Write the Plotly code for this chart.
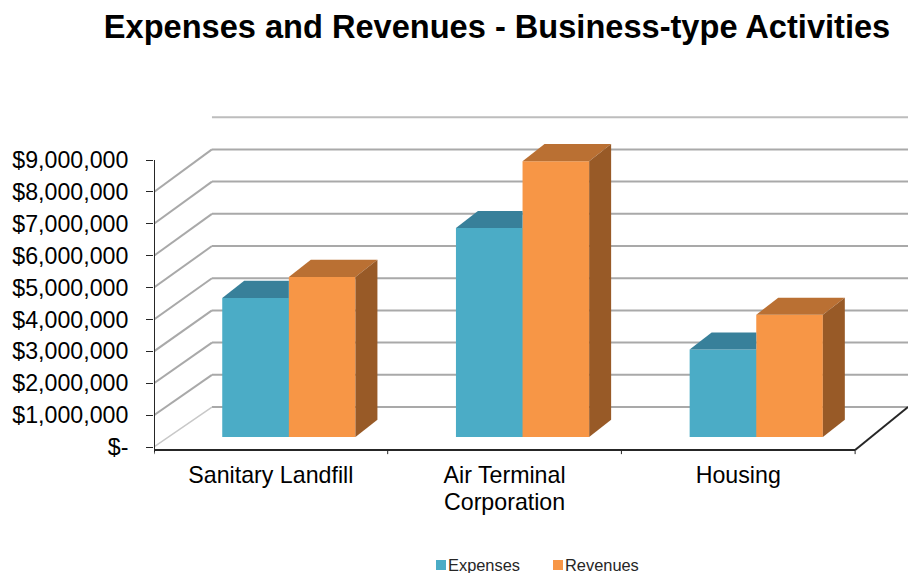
import plotly.graph_objects as go

# Chart content
title = "Expenses and Revenues - Business-type Activities"
categories = ["Sanitary Landfill", "Air Terminal", "Housing"]
category_second_lines = ["", "Corporation", ""]
expenses = [4_360_000, 6_550_000, 2_740_000]
revenues = [5_020_000, 8_650_000, 3_830_000]
y_ticks = [0, 1_000_000, 2_000_000, 3_000_000, 4_000_000, 5_000_000,
           6_000_000, 7_000_000, 8_000_000, 9_000_000]
y_tick_labels = ["$-", "$1,000,000", "$2,000,000", "$3,000,000", "$4,000,000",
                 "$5,000,000", "$6,000,000", "$7,000,000", "$8,000,000", "$9,000,000"]

# Colours: front, top and side faces of each series
EXP_FRONT, EXP_TOP = "#4bacc6", "#38809a"
REV_FRONT, REV_TOP, REV_SIDE = "#f79646", "#ba7033", "#985a27"
GRID, GRID_LIGHT = "#a9a9a9", "#c8c8c8"
FONT = "Liberation Sans"

# Oblique projection, expressed in axis units
X_RANGE = (-0.5, 2.7263)
Y_RANGE = (-313_600, 10_724_600)
BAR_W = 0.285          # width of one bar
BAR_SHIFT = 0.077      # sideways shift of the bar group on the floor
BAR_BASE = 314_000     # lift of the bar foot above the front axis
BAR_DX, BAR_DY = 0.094, 540_000   # depth of a bar
WALL_DX = 0.248        # horizontal distance from the front axis to the back wall
WALL_LIFT = 1_254_000  # vertical distance at the zero level
WALL_SCALE = 1.0097    # back wall spacing relative to the front axis
X_LEFT, X_END = -0.5, 2.5
FLOOR_Y = -94_000      # level of the drawn horizontal axis
SEAM = 0.003           # overlap that closes the hairline between paired bars


def wall_y(v):
    return v * WALL_SCALE + WALL_LIFT


fig = go.Figure()

# Front faces
for name, values, colour, offset, width in [
    ("Expenses", expenses, EXP_FRONT, BAR_SHIFT - BAR_W, BAR_W + SEAM),
    ("Revenues", revenues, REV_FRONT, BAR_SHIFT, BAR_W),
]:
    fig.add_bar(x=list(range(len(categories))), y=values, base=BAR_BASE,
                offset=offset, width=width, name=name,
                marker=dict(color=colour, line_width=0), showlegend=False)


def face(xs, ys, colour):
    fig.add_scatter(x=xs, y=ys, mode="lines", fill="toself", fillcolor=colour,
                    line=dict(width=0), hoverinfo="skip", showlegend=False)


# Top and side faces; the expenses top stops where the revenues bar begins
for i, (e, r) in enumerate(zip(expenses, revenues)):
    x0 = i + BAR_SHIFT - BAR_W
    x1 = i + BAR_SHIFT
    x2 = x1 + BAR_W
    te, tr = e + BAR_BASE, r + BAR_BASE
    face([x0, x0 + BAR_DX, x1, x1, x0], [te, te + BAR_DY, te + BAR_DY, te, te], EXP_TOP)
    face([x1, x1 + BAR_DX, x2 + BAR_DX, x2, x1], [tr, tr + BAR_DY, tr + BAR_DY, tr, tr], REV_TOP)
    face([x2, x2 + BAR_DX, x2 + BAR_DX, x2, x2],
         [tr, tr + BAR_DY, BAR_BASE + BAR_DY, BAR_BASE, tr], REV_SIDE)

# Back wall gridlines and the side wall diagonals
shapes = []
for v in y_ticks:
    shapes.append(dict(type="line", layer="below", xref="x", yref="y",
                       x0=X_LEFT + WALL_DX, x1=X_RANGE[1], y0=wall_y(v), y1=wall_y(v),
                       line=dict(color="#bdbdbd" if v == y_ticks[-1] else GRID, width=2)))
    if v != y_ticks[-1]:
        shapes.append(dict(type="line", layer="below", xref="x", yref="y",
                           x0=X_LEFT, x1=X_LEFT + WALL_DX, y0=v, y1=wall_y(v),
                           line=dict(color=GRID_LIGHT if v == 0 else GRID,
                                     width=1.5 if v == 0 else 2)))

# Axis lines, category ticks and the right floor edge
axis_style = dict(mode="lines", hoverinfo="skip", showlegend=False, cliponaxis=False)
fig.add_scatter(x=[X_LEFT, X_LEFT], y=[y_ticks[-1], FLOOR_Y - 80_000],
                line=dict(color="#262626", width=2), **axis_style)
fig.add_scatter(x=[X_LEFT, X_END], y=[FLOOR_Y, FLOOR_Y],
                line=dict(color="#262626", width=2), **axis_style)
for i in range(len(categories) + 1):
    fig.add_scatter(x=[X_LEFT + i] * 2, y=[FLOOR_Y, FLOOR_Y - 130_000],
                    line=dict(color="#262626", width=1), **axis_style)
fig.add_scatter(x=[X_END, X_RANGE[1]], y=[FLOOR_Y, WALL_LIFT],
                line=dict(color="#262626", width=2), **axis_style)

annotations = []

# Second line of a category label, set closer than the tick text line height
for i, line in enumerate(category_second_lines):
    if line:
        annotations.append(dict(text=line, xref="x", yref="paper", x=i,
                                y=(457 - 502) / 352, xanchor="center", yanchor="middle",
                                showarrow=False,
                                font=dict(family=FONT, size=23.2, color="black")))

# Legend row
legend_items = [("Expenses", EXP_FRONT, 436), ("Revenues", REV_FRONT, 553)]
for name, colour, left in legend_items:
    shapes.append(dict(type="rect", xref="paper", yref="paper",
                       x0=(left - 154) / 754, x1=(left + 10 - 154) / 754,
                       y0=(457 - 570) / 352, y1=(457 - 560) / 352,
                       fillcolor=colour, line_width=0))
    annotations.append(dict(text=name, xref="paper", yref="paper",
                            x=(left + 9.5 - 154) / 754, y=(457 - 565) / 352,
                            xanchor="left", yanchor="middle", showarrow=False,
                            font=dict(family=FONT, size=16.4, color="#262626")))

fig.update_layout(
    width=908, height=573, autosize=False,
    margin=dict(l=154, r=0, t=105, b=116),
    paper_bgcolor="white", plot_bgcolor="white",
    title=dict(text=title, x=497 / 908, xref="container", xanchor="center",
               y=1 - 27 / 573, yref="container", yanchor="middle",
               font=dict(family=FONT, size=32.6, color="black", weight="bold")),
    barmode="overlay", showlegend=False,
    shapes=shapes, annotations=annotations,
    xaxis=dict(range=list(X_RANGE), tickmode="array",
               tickvals=list(range(len(categories))), ticktext=categories,
               ticks="", showgrid=False, zeroline=False, showline=False,
               ticklabelstandoff=2,
               tickfont=dict(family=FONT, size=23.2, color="black")),
    yaxis=dict(range=list(Y_RANGE), tickmode="array", tickvals=y_ticks,
               ticktext=y_tick_labels, ticks="outside", ticklen=7, tickwidth=1,
               tickcolor="#262626", showgrid=False, zeroline=False, showline=False,
               ticklabelstandoff=13,
               tickfont=dict(family=FONT, size=23.2, color="black")),
)

fig.write_html("out.html")
